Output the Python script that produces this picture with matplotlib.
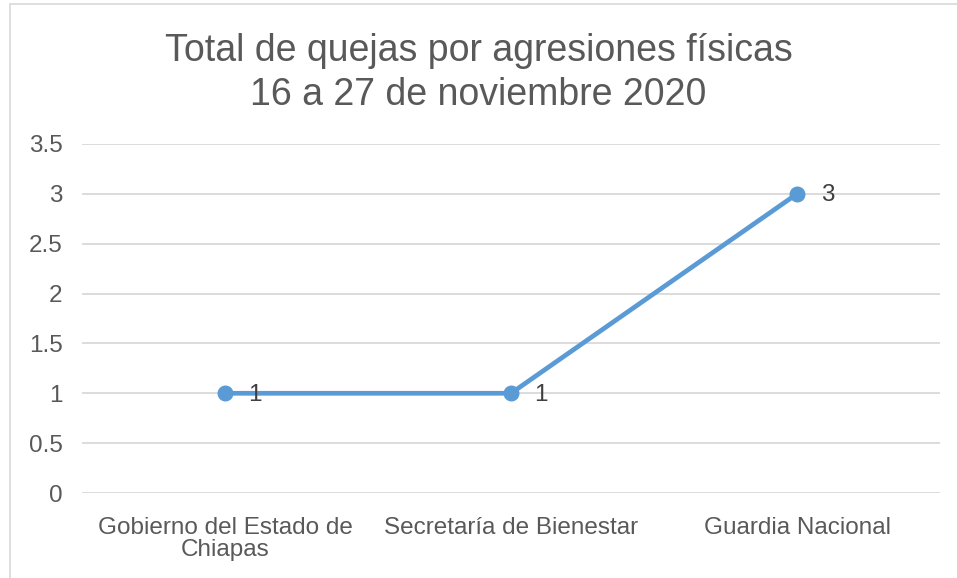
import matplotlib
matplotlib.use("Agg")
import matplotlib.pyplot as plt
from matplotlib.patches import Rectangle

# data
categories = ["Gobierno del Estado de\nChiapas", "Secretaría de Bienestar", "Guardia Nacional"]
quejas = [1, 1, 3]
yticks = [0, 0.5, 1, 1.5, 2, 2.5, 3, 3.5]
ytick_labels = ["0", "0.5", "1", "1.5", "2", "2.5", "3", "3.5"]
title = "Total de quejas por agresiones físicas\n16 a 27 de noviembre 2020"

plt.rcParams["font.family"] = ["Liberation Sans", "DejaVu Sans"]

W, H = 957, 578
fig = plt.figure(figsize=(W / 100, H / 100), dpi=100)
fig.patch.set_facecolor("white")

# light chart border (only left/top visible in the crop)
fig.patches.append(Rectangle((10 / W, -0.1), 1.2, 1 - 4 / H + 0.1, transform=fig.transFigure,
                             fill=False, edgecolor="#D9D9D9", linewidth=1.2))

ax = fig.add_axes([82 / W, 1 - 493 / H, (940 - 82) / W, (493 - 144) / H])
x = list(range(len(categories)))
ax.plot(x, quejas, color="#5B9BD5", linewidth=3.4, marker="o", markersize=10.5,
        solid_capstyle="round", zorder=3)

for xi, v in zip(x, quejas):
    ax.annotate(str(v), (xi, v), xytext=(17, -1), textcoords="offset points",
                ha="left", va="center", fontsize=17.5, color="#404040", zorder=4)

ax.set_xlim(-0.5, len(categories) - 0.5)
ax.set_ylim(0, 3.5)
ax.set_yticks(yticks)
ax.set_yticklabels(ytick_labels)
ax.set_xticks(x)
ax.set_xticklabels(categories)
ax.tick_params(axis="both", length=0, labelsize=17.5, labelcolor="#595959")
ax.tick_params(axis="y", pad=14)
ax.tick_params(axis="x", pad=17)
for lbl in ax.get_xticklabels():
    lbl.set_linespacing(1.05)

ax.grid(axis="y", color="#D9D9D9", linewidth=1.3)
ax.set_axisbelow(True)
for s in ax.spines.values():
    s.set_visible(False)

fig.text(0.5, 1 - 73 / H, title, ha="center", va="center", fontsize=27,
         color="#595959", linespacing=1.27)

fig.savefig("out.png", dpi=100)
